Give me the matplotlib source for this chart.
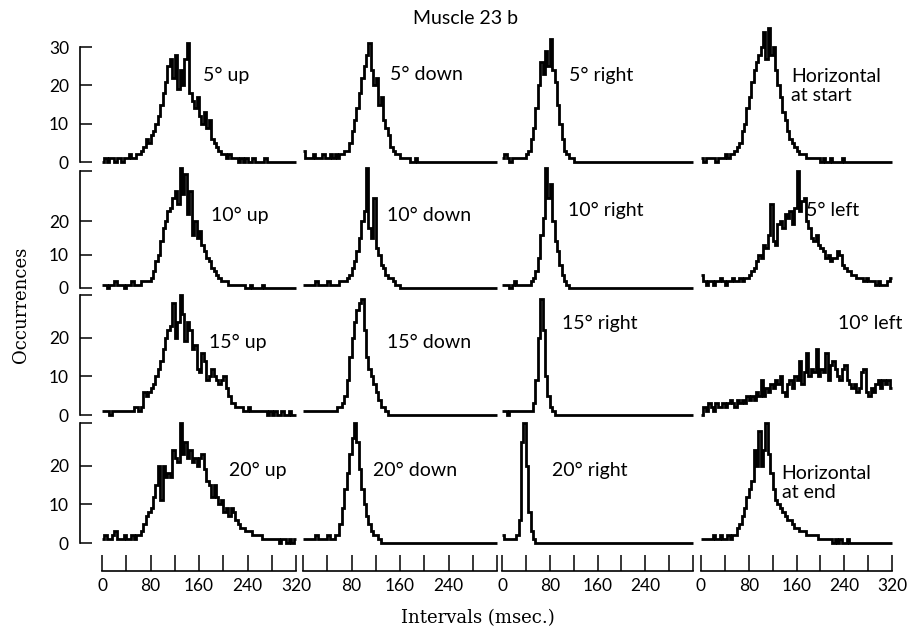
import numpy as np
import matplotlib.pyplot as plt

plt.rcParams['font.family'] = ['Lato', 'DejaVu Sans']

W, H = 910, 635

# histogram bins, 4 msec wide, 0-320 msec
edges = np.arange(0, 321, 4)

# row 1
up_5 = [0, 1, 0, 1, 1, 0, 1, 1, 0, 1, 1, 2, 1, 1, 2,
        2, 3, 4, 6, 5, 7, 8, 10, 12, 15,
        18, 21, 25, 27, 22, 28, 19, 24, 20, 27, 31, 18, 16, 14, 17,
        12, 10, 13, 9, 11, 6, 5, 4, 3, 2,
        2, 1, 2, 1, 1, 1, 0, 1, 0, 1,
        0, 0, 1, 0, 0, 0, 0, 1, 0, 0, 0, 0, 0, 0, 0, 0, 0, 0, 0, 0]
down_5 = [3, 1, 1, 1, 2, 1, 1, 1, 2, 1, 1, 2, 1, 2, 1,
          2, 2, 3, 3, 5, 8, 11, 14, 18, 22,
          25, 28, 31, 24, 20, 22, 15, 17, 11, 9,
          7, 4, 3, 2, 2, 1, 1, 1, 1, 0,
          0, 1, 0, 0, 0, 0, 0, 0, 0, 0, 0, 0, 0, 0, 0, 0, 0, 0, 0, 0,
          0, 0, 0, 0, 0, 0, 0, 0, 0, 0, 0, 0, 0, 0, 0]
right_5 = [1, 2, 1, 0, 1, 1, 1, 1, 1, 1,
           2, 3, 6, 9, 14, 20, 26, 23, 29, 25,
           32, 24, 21, 15, 10, 6, 3, 2, 1, 1,
           0, 0, 0, 0, 0, 0, 0, 0, 0, 0, 0, 0, 0, 0, 0, 0, 0, 0, 0, 0,
           0, 0, 0, 0, 0, 0, 0, 0, 0, 0, 0, 0, 0, 0, 0, 0, 0, 0, 0, 0,
           0, 0, 0, 0, 0, 0, 0, 0, 0, 0]
horiz_start = [1, 0, 1, 1, 1, 1, 0, 1, 1, 1, 2, 1, 2,
               2, 3,
               4, 5, 8, 10, 14, 17, 21, 24, 26, 28,
               30, 34, 27, 35, 28, 30,
               24, 20, 17, 13, 11, 8, 6, 5, 4,
               3, 2, 2, 2, 1, 1, 1, 1, 1, 1,
               0, 1, 0, 0, 1, 0, 0, 0, 0, 1, 0, 0, 0, 0, 0,
               0, 0, 0, 0, 0, 0, 0, 0, 0, 0, 0, 0, 0, 0, 0]

# row 2
up_10 = [1, 1, 0, 1, 1, 2, 1, 1, 1, 0, 1, 1, 2, 1, 1, 1, 2, 2, 2,
         2, 3, 5, 8, 10, 14,
         18, 20, 23, 24, 27, 29, 25, 36, 28, 34, 22, 29,
         16, 20, 15, 17, 13, 11, 9, 8,
         6, 5, 4, 3, 2, 2, 2, 1, 1, 1, 1, 1, 1,
         1, 0, 0, 1, 0, 0, 0, 0, 1, 0, 0, 0, 0, 0, 0, 0, 0, 0, 0, 0, 0, 0]
down_10 = [1, 1, 1, 1, 1, 2, 1, 1, 1, 1, 2, 1, 1, 1, 1, 2,
           2, 2, 3, 4, 6, 8, 11, 15,
           20, 23, 36, 18, 15, 27, 12, 10,
           7, 6, 4, 3, 3, 2, 1, 1,
           0, 0, 0, 0, 0, 0, 0, 0, 0, 0, 0, 0, 0, 0, 0, 0, 0, 0, 0, 0,
           0, 0, 0, 0, 0, 0, 0, 0, 0, 0, 0, 0, 0, 0, 0, 0, 0, 0, 0, 0]
right_10 = [1, 1, 1, 0, 1, 2, 1, 1, 1, 1, 1, 1, 2,
            3, 5, 9, 16,
            21, 36, 27, 31, 20, 14,
            11, 7, 4, 2, 1,
            0, 0, 0, 0, 0, 0, 0, 0, 0, 0, 0, 0, 0, 0, 0, 0, 0, 0, 0, 0,
            0, 0, 0, 0, 0, 0, 0, 0, 0, 0, 0, 0, 0, 0, 0, 0, 0, 0, 0, 0,
            0, 0, 0, 0, 0, 0, 0, 0, 0, 0, 0, 0]
left_5 = [4, 2, 1, 2, 2, 1, 2, 2, 3, 2, 1, 2, 2, 3, 2, 2, 3, 2, 3, 3,
          4, 5, 6, 8, 10, 9, 13, 12, 16, 25,
          14, 13, 19, 20, 18, 22, 21, 23, 19, 24,
          35, 23, 26, 27, 20, 18, 15, 14, 16, 13,
          12, 11, 9, 10, 8, 9, 9, 11, 10, 7,
          6, 5, 5, 4, 4, 3, 3, 3, 2, 3,
          2, 2, 2, 1, 2, 1, 1, 1, 2, 3]

# row 3
up_15 = [1, 1, 1, 0, 1, 1, 1, 1, 1, 1, 1, 1, 1,
         2, 2, 1, 2, 6,
         5, 6, 7, 8, 10, 12, 14,
         17, 20, 22, 23, 29, 20,
         24, 31, 26, 19, 24, 22, 17, 18, 12,
         11, 16, 14, 9, 10, 12, 10, 9, 8, 9,
         10, 7, 5, 3, 3, 2, 2, 2,
         1, 1, 2, 1, 1, 1, 1, 1, 1, 1, 0, 1, 0, 1, 0, 0, 1, 0, 0, 1, 0, 0]
down_15 = [1, 1, 1, 1, 1, 1, 1, 1, 1, 1, 1, 1, 1, 1, 2,
           2, 3, 5, 9, 15,
           20, 24, 27, 29, 30, 22,
           15, 12, 10, 8, 6, 4, 2, 2,
           1, 0, 0, 0, 0, 0, 0, 0, 0, 0, 0, 0, 0, 0, 0, 0, 0, 0, 0, 0,
           0, 0, 0, 0, 0, 0, 0, 0, 0, 0, 0, 0, 0, 0, 0, 0, 0, 0, 0, 0,
           0, 0, 0, 0, 0, 0]
right_15 = [1, 1, 0, 1, 1, 1, 1, 1, 1, 1, 1, 1, 1,
            3, 9, 20, 30, 22, 10, 5, 2, 1,
            0, 0, 0, 0, 0, 0, 0, 0, 0, 0, 0, 0, 0, 0, 0, 0, 0, 0, 0, 0,
            0, 0, 0, 0, 0, 0, 0, 0, 0, 0, 0, 0, 0, 0, 0, 0, 0, 0, 0, 0,
            0, 0, 0, 0, 0, 0, 0, 0, 0, 0, 0, 0, 0, 0, 0, 0, 0, 0]
left_10 = [0, 2, 1, 3, 2, 1, 3, 2, 2, 3,
           2, 3, 4, 3, 2, 4, 3, 4, 3, 5,
           4, 5, 4, 6, 5, 9, 5, 7, 6, 8,
           7, 9, 8, 10, 6, 5, 8, 9, 7, 10,
           9, 14, 8, 11, 16, 10, 12, 11, 17, 10,
           12, 11, 16, 9, 13, 14, 12, 10, 9, 12,
           13, 9, 8, 7, 8, 6, 7, 11, 12, 6,
           5, 7, 6, 8, 9, 7, 9, 8, 9, 7]

# row 4
up_20 = [1, 2, 1, 1, 2, 3, 1, 1, 1, 2, 1, 1, 2, 1, 2, 2,
         3, 5, 7, 8, 9, 12, 15, 20, 11,
         20, 17, 18, 17, 24, 22, 21, 31, 23, 26,
         22, 24, 21, 22, 20, 22, 23, 19, 16, 15,
         12, 15, 12, 10, 11, 8, 9, 7, 9, 8,
         6, 5, 4, 4, 3, 3, 3, 2, 2, 2,
         2, 1, 1, 1, 1, 1, 1, 1, 0, 1, 1, 0, 1, 0, 1]
down_20 = [1, 1, 1, 1, 1, 2, 1, 1, 1, 1, 2, 1, 1, 2,
           2, 5, 9, 14, 18, 23, 27, 31, 26, 19, 14, 10, 7, 5, 3, 2, 2, 1,
           0, 0, 0, 0, 0, 0, 0, 0, 0, 0, 0, 0, 0, 0, 0, 0, 0, 0, 0, 0,
           0, 0, 0, 0, 0, 0, 0, 0, 0, 0, 0, 0, 0, 0, 0, 0, 0, 0, 0, 0,
           0, 0, 0, 0, 0, 0, 0, 0]
right_20 = [2, 1, 1, 1, 1, 1, 2,
            6, 26, 31, 20, 8, 3, 1,
            0, 0, 0, 0, 0, 0, 0, 0, 0, 0, 0, 0, 0, 0, 0, 0, 0, 0, 0, 0,
            0, 0, 0, 0, 0, 0, 0, 0, 0, 0, 0, 0, 0, 0, 0, 0, 0, 0, 0, 0,
            0, 0, 0, 0, 0, 0, 0, 0, 0, 0, 0, 0, 0, 0, 0, 0, 0, 0, 0, 0,
            0, 0, 0, 0, 0, 0]
horiz_end = [1, 1, 1, 1, 1, 2, 1, 1, 2, 1, 1, 2, 1,
             2, 2, 4, 5, 7, 9, 12, 14, 16, 24,
             20, 29, 20, 24, 31, 23, 18, 14, 11, 10,
             9, 8, 7, 6, 6, 5, 4, 4, 3, 3,
             3, 2, 2, 2, 2, 2, 1,
             1, 1, 1, 1, 1, 0, 1, 0, 1, 0, 0, 1, 0, 0, 0,
             0, 0, 0, 0, 0, 0, 0, 0, 0, 0, 0, 0, 0, 0, 0]

panels = [[up_5, down_5, right_5, horiz_start],
          [up_10, down_10, right_10, left_5],
          [up_15, down_15, right_15, left_10],
          [up_20, down_20, right_20, horiz_end]]

titles = [['5° up', '5° down', '5° right', 'Horizontal\nat start'],
          ['10° up', '10° down', '10° right', '5° left'],
          ['15° up', '15° down', '15° right', '10° left'],
          ['20° up', '20° down', '20° right', 'Horizontal\nat end']]

# label anchor (msec, count) for each panel
label_pos = [[(167, 22.7), (144, 22.7), (113, 22.7), (151, 19.8)],
             [(179, 21.8), (139, 21.8), (111, 23.3), (176, 23.3)],
             [(176, 18.7), (139, 18.7), (101, 23.6), (337, 23.6)],
             [(210, 18.7), (116, 18.7), (83, 18.7), (135, 15.6)]]

# layout in pixels
col_x0 = [102, 303, 502, 701]
col_w = [194, 194, 191, 191]
row_zero = [162, 288, 415, 543]
row_top = [47, 171, 295, 423]
row_ymax = [30, 35, 31, 31]


def px_axes(fig, x0, y_top, w, h):
    return fig.add_axes([x0 / W, 1 - (y_top + h) / H, w / W, h / H])


fig = plt.figure(figsize=(W / 100, H / 100), dpi=100)

for r in range(4):
    for c in range(4):
        ax = px_axes(fig, col_x0[c], row_top[r], col_w[c], row_zero[r] - row_top[r])
        ax.stairs(panels[r][c], edges, color='black', lw=2.0,
                  baseline=None, clip_on=False)
        ax.set_xlim(0, 320)
        ax.set_ylim(0, row_ymax[r])
        for s in ax.spines.values():
            s.set_visible(False)
        ax.set_xticks([])
        lx, ly = label_pos[r][c]
        ha = 'right' if titles[r][c] == '10° left' else 'left'
        ax.text(lx, ly, titles[r][c], fontsize=14, ha=ha, va='center',
                linespacing=1.15)
        if c == 0:
            sp = ax.spines['left']
            sp.set_visible(True)
            sp.set_position(('outward', 15.8))
            sp.set_bounds(0, row_ymax[r])
            sp.set_linewidth(1.2)
            ax.set_yticks([0, 10, 20, row_ymax[r]])
            ax.set_yticklabels(['0', '10', '20', '30' if r == 0 else ''])
            ax.tick_params(axis='y', direction='in', length=8.5, width=1.1,
                           pad=8, labelsize=12.5)
        else:
            ax.set_yticks([])

# interval axes under each column
xlabels = [['0', '', '80', '', '160', '', '240', '', '320'],
           ['', '', '80', '', '160', '', '240', '', ''],
           ['0', '', '80', '', '160', '', '240', '', ''],
           ['0', '', '80', '', '160', '', '240', '', '320']]
for c in range(4):
    ax = px_axes(fig, col_x0[c], 560, col_w[c], 11)
    ax.set_xlim(0, 320)
    ax.set_ylim(0, 1)
    for k in ['left', 'right', 'top']:
        ax.spines[k].set_visible(False)
    ax.spines['bottom'].set_linewidth(1.2)
    ax.set_yticks([])
    ax.set_xticks(np.arange(0, 321, 40))
    ax.set_xticklabels(xlabels[c])
    ax.tick_params(axis='x', direction='in', length=11.5, width=1.1,
                   pad=5, labelsize=12.5)
    ax.patch.set_visible(False)

fig.text(466 / W, 1 - 19 / H, 'Muscle 23 b', ha='center', va='center', fontsize=14)
fig.text(21 / W, 1 - 305 / H, 'Occurrences', rotation=90, ha='center', va='center',
         fontsize=13, family='DejaVu Serif')
fig.text(478 / W, 1 - 618 / H, 'Intervals (msec.)', ha='center', va='center',
         fontsize=13, family='DejaVu Serif')

fig.savefig('out.png', dpi=100)
